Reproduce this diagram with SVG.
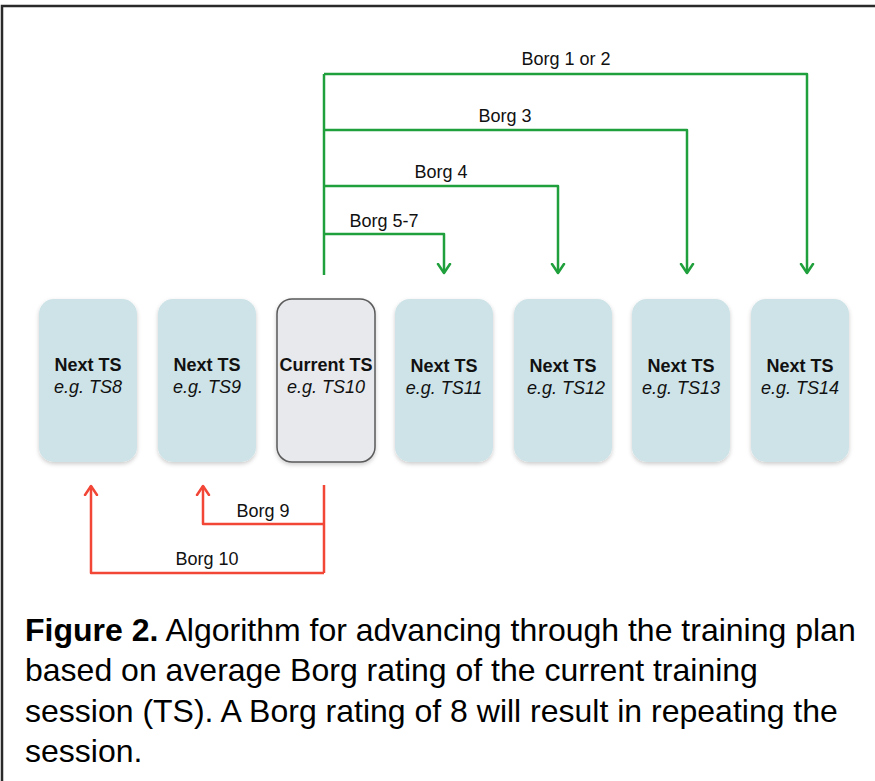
<svg xmlns="http://www.w3.org/2000/svg" width="875" height="781" viewBox="0 0 875 781">
<style>
.lbl{font-family:"Liberation Sans",Arial,sans-serif;font-size:18px;fill:#111;text-anchor:middle}
.t1{font-family:"Liberation Sans",Arial,sans-serif;font-size:18px;font-weight:bold;fill:#111;text-anchor:middle}
.t2{font-family:"Liberation Sans",Arial,sans-serif;font-size:18px;font-style:italic;fill:#111;text-anchor:middle}
.box{fill:#cde3e7;filter:url(#sh)}
.cur{fill:#e7e9ec;stroke:#5a5a5a;stroke-width:1.5;filter:url(#sh)}
.g{fill:none;stroke:#20a03c;stroke-width:2.5;stroke-linejoin:round}
.r{fill:none;stroke:#f24637;stroke-width:2.5;stroke-linejoin:round}
.cap{font-family:"Liberation Sans",Arial,sans-serif;font-size:32px;fill:#000}
</style>
<defs>
<filter id="sh" x="-10%" y="-10%" width="120%" height="125%">
<feDropShadow dx="0" dy="2" stdDeviation="2" flood-color="#000" flood-opacity="0.2"/>
</filter>
<marker id="ag" markerUnits="userSpaceOnUse" markerWidth="14" markerHeight="16" viewBox="0 0 14 16" refX="10" refY="8" orient="auto">
<path d="M1,2 L10,8 L1,14" fill="none" stroke="#20a03c" stroke-width="2.5" stroke-linecap="round" stroke-linejoin="round"/>
</marker>
<marker id="ar" markerUnits="userSpaceOnUse" markerWidth="14" markerHeight="16" viewBox="0 0 14 16" refX="10" refY="8" orient="auto">
<path d="M1,2 L10,8 L1,14" fill="none" stroke="#f24637" stroke-width="2.5" stroke-linecap="round" stroke-linejoin="round"/>
</marker>
</defs>
<rect width="875" height="781" fill="#fff"/>
<path d="M2,781 L2,6 L875,6" fill="none" stroke="#2a2a2a" stroke-width="2.5"/>

<g id="connectors">
<path class="g" d="M324,275 L324,74"/>
<path class="g" d="M324,74 L807,74 L807,273" marker-end="url(#ag)"/>
<path class="g" d="M324,130 L687,130 L687,273" marker-end="url(#ag)"/>
<path class="g" d="M324,186 L558,186 L558,273" marker-end="url(#ag)"/>
<path class="g" d="M324,234 L444,234 L444,273" marker-end="url(#ag)"/>
<path class="r" d="M324,485 L324,573"/>
<path class="r" d="M324,524 L203,524 L203,486" marker-end="url(#ar)"/>
<path class="r" d="M324,573 L91,573 L91,486" marker-end="url(#ar)"/>
<text class="lbl" x="566" y="65">Borg 1 or 2</text>
<text class="lbl" x="505" y="122">Borg 3</text>
<text class="lbl" x="441" y="178">Borg 4</text>
<text class="lbl" x="384" y="227">Borg 5-7</text>
<text class="lbl" x="263" y="517">Borg 9</text>
<text class="lbl" x="207" y="565">Borg 10</text>
</g>

<g id="ts8"><rect class="box" x="39" y="299" width="98" height="163" rx="15"/><text class="t1" x="88" y="371">Next TS</text><text class="t2" x="88" y="393">e.g. TS8</text></g>
<g id="ts9"><rect class="box" x="158" y="299" width="98" height="163" rx="15"/><text class="t1" x="207" y="371">Next TS</text><text class="t2" x="207" y="393">e.g. TS9</text></g>
<g id="ts10"><rect class="cur" x="277" y="299" width="98" height="163" rx="15"/><text class="t1" x="326" y="371">Current TS</text><text class="t2" x="326" y="393">e.g. TS10</text></g>
<g id="ts11"><rect class="box" x="395" y="299" width="98" height="163" rx="15"/><text class="t1" x="444" y="372">Next TS</text><text class="t2" x="444" y="394">e.g. TS11</text></g>
<g id="ts12"><rect class="box" x="514" y="299" width="98" height="163" rx="15"/><text class="t1" x="563" y="372">Next TS</text><text class="t2" x="566" y="394">e.g. TS12</text></g>
<g id="ts13"><rect class="box" x="632" y="299" width="98" height="163" rx="15"/><text class="t1" x="681" y="372">Next TS</text><text class="t2" x="681" y="394">e.g. TS13</text></g>
<g id="ts14"><rect class="box" x="751" y="299" width="98" height="163" rx="15"/><text class="t1" x="800" y="372">Next TS</text><text class="t2" x="800" y="394">e.g. TS14</text></g>

<g id="caption">
<text class="cap" x="25" y="641"><tspan font-weight="bold">Figure 2.</tspan> Algorithm for advancing through the training plan</text>
<text class="cap" x="25" y="681">based on average Borg rating of the current training</text>
<text class="cap" x="25" y="722">session (TS). A Borg rating of 8 will result in repeating the</text>
<text class="cap" x="25" y="762">session.</text>
</g>
</svg>
